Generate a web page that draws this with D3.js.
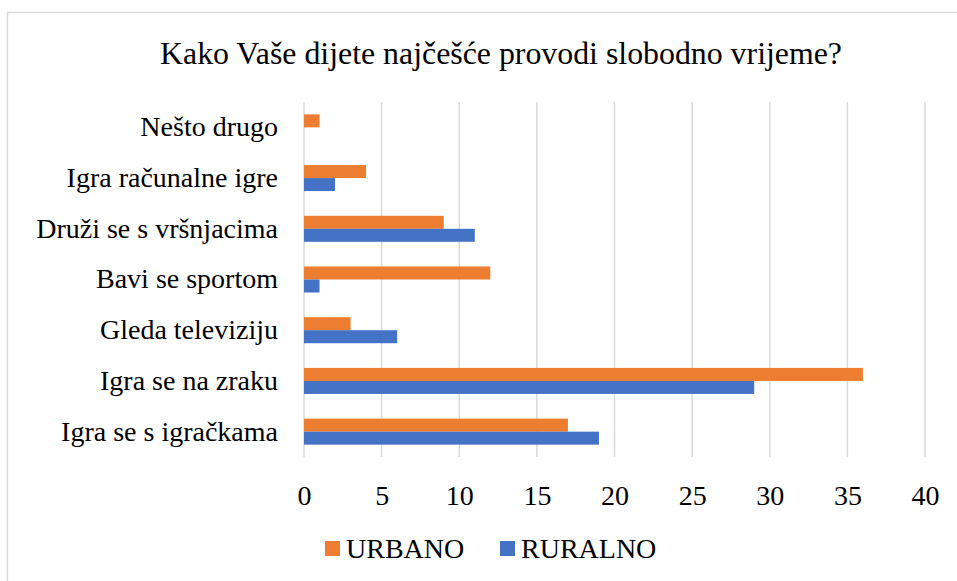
<!DOCTYPE html>
<html>
<head>
<meta charset="utf-8">
<script src="https://cdn.jsdelivr.net/npm/d3@7"></script>
<style>
  body { margin: 0; background: #fff; }
</style>
</head>
<body>
<div id="chart"></div>
<script>
// categories top to bottom
let categories = ["Nešto drugo", "Igra računalne igre", "Druži se s vršnjacima", "Bavi se sportom",
                  "Gleda televiziju", "Igra se na zraku", "Igra se s igračkama"];
let urbano  = [1, 4, 9, 12, 3, 36, 17];
let ruralno = [0, 2, 11, 1, 6, 29, 19];
let seriesNames = ["URBANO", "RURALNO"];
let seriesColors = ["#ED7D31", "#4472C4"];
let xTicks = [0, 5, 10, 15, 20, 25, 30, 35, 40];
let title = "Kako Vaše dijete najčešće provodi slobodno vrijeme?";

let serif = "'Liberation Serif', 'Noto Serif', 'Nimbus Roman', 'Nimbus Roman No9 L', FreeSerif, Tinos, 'Times New Roman', Times, 'DejaVu Serif', serif";

let svgwidth = 957, svgheight = 581;
let svg = d3.select("#chart").append("svg")
  .attr("width", svgwidth)
  .attr("height", svgheight);

// chart frame (only left and top edge visible in the picture)
svg.append("rect")
  .attr("x", 7.5).attr("y", 12.5)
  .attr("width", 1000).attr("height", 600)
  .attr("fill", "#fff")
  .attr("stroke", "#d9d9d9")
  .attr("stroke-width", 1.5);

let margin = {top: 102, left: 304, right: 32, bottom: 124};
let chartWidth = svgwidth - margin.left - margin.right;   // 621
let chartHeight = svgheight - margin.top - margin.bottom;  // 355

let chartgroup = svg.append("g").attr("transform", `translate(${margin.left},${margin.top})`);

let x = d3.scaleLinear().domain([0, 40]).range([0, chartWidth]);
let y = d3.scaleBand().domain(categories).range([0, chartHeight]).paddingInner(0.487).paddingOuter(0.2435);
let y1 = d3.scaleBand().domain(seriesNames).range([0, y.bandwidth()]);

// vertical gridlines
chartgroup.append("g")
  .selectAll("line")
  .data(xTicks)
  .enter()
  .append("line")
  .attr("x1", d => x(d)).attr("x2", d => x(d))
  .attr("y1", 0).attr("y2", chartHeight)
  .attr("stroke", "#d9d9d9")
  .attr("stroke-width", 1.5);

// bars
let rows = categories.map((c, i) => ({cat: c, vals: [urbano[i], ruralno[i]]}));
let groups = chartgroup.selectAll(".row")
  .data(rows)
  .enter()
  .append("g")
  .attr("class", "row")
  .attr("transform", d => `translate(0,${y(d.cat)})`);

groups.selectAll("rect")
  .data(d => d.vals.map((v, k) => ({name: seriesNames[k], value: v, color: seriesColors[k]})))
  .enter()
  .append("rect")
  .attr("x", x(0))
  .attr("y", d => y1(d.name))
  .attr("width", d => x(d.value) - x(0))
  .attr("height", y1.bandwidth())
  .attr("fill", d => d.color);

// x axis labels
let xaxis = d3.axisBottom(x).tickValues(xTicks).tickSize(0).tickPadding(28);
let xg = chartgroup.append("g")
  .attr("transform", `translate(0,${chartHeight})`)
  .call(xaxis);
xg.attr("font-family", serif).attr("font-size", 28);
xg.select(".domain").remove();
xg.selectAll("text").attr("fill", "#000");

// category labels
let yaxis = d3.axisLeft(y).tickSize(0).tickPadding(26);
let yg = chartgroup.append("g").call(yaxis);
yg.attr("font-family", serif).attr("font-size", 28);
yg.select(".domain").remove();
yg.selectAll("text")
  .attr("fill", "#000")
  .attr("dy", "0.32em");

// title
svg.append("text")
  .attr("x", 501)
  .attr("y", 64)
  .attr("text-anchor", "middle")
  .attr("font-family", serif)
  .attr("font-size", 32)
  .attr("textLength", 682)
  .attr("lengthAdjust", "spacingAndGlyphs")
  .text(title);

// legend
let legendX = [325, 500];
let legend = svg.selectAll(".legend")
  .data(seriesNames)
  .enter()
  .append("g")
  .attr("class", "legend")
  .attr("transform", (d, i) => `translate(${legendX[i]},541)`);
legend.append("rect")
  .attr("width", 15).attr("height", 15)
  .attr("fill", (d, i) => seriesColors[i]);
legend.append("text")
  .attr("x", 21)
  .attr("y", 16.5)
  .attr("font-family", serif)
  .attr("font-size", 28)
  .text(d => d);
</script>
</body>
</html>
